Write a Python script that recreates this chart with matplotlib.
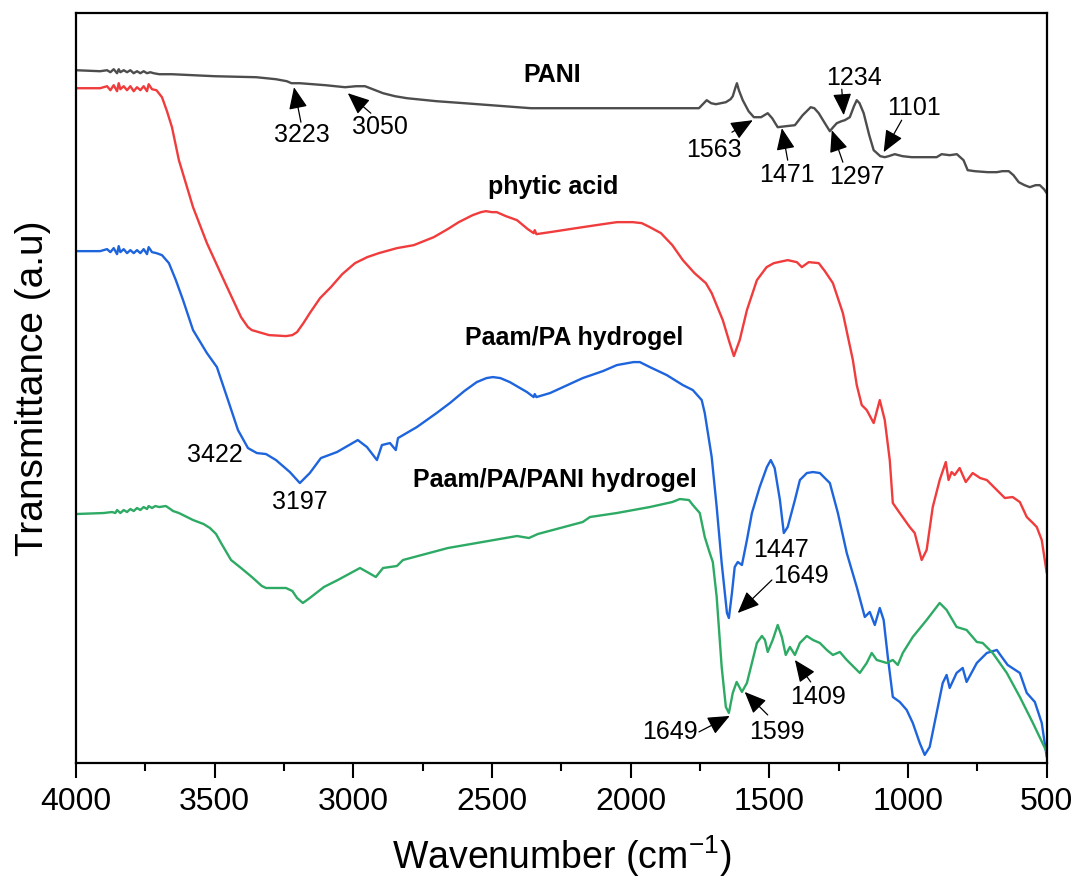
import matplotlib
matplotlib.use("Agg")
import matplotlib.pyplot as plt
from matplotlib.ticker import MultipleLocator

plt.rcParams['font.family'] = ['Liberation Sans', 'DejaVu Sans']
plt.rcParams['mathtext.fontset'] = 'custom'
plt.rcParams['mathtext.rm'] = 'Liberation Sans'
plt.rcParams['mathtext.it'] = 'Liberation Sans'

# ---------------- data (wavenumber cm-1, offset transmittance a.u.) ----------------
pani_wn = [4000, 3913, 3888, 3876, 3864, 3852, 3846, 3840, 3828, 3816, 3804, 3792, 3780,
           3768, 3756, 3744, 3732, 3720, 3700, 3654, 3500, 3350, 3279, 3240, 3223, 3193,
           3100, 3030, 2990, 2958, 2930, 2893, 2850, 2807, 2700, 2600, 2360, 2000, 1754, 1740, 1726,
           1710, 1693, 1675, 1657, 1640, 1632, 1622, 1617, 1610, 1596, 1575, 1556, 1530, 1506, 1490, 1470,
           1440, 1408, 1380, 1351, 1338, 1322, 1300, 1282, 1270, 1257, 1240, 1228, 1210, 1195,
           1185, 1175, 1160, 1140, 1124, 1100, 1084, 1070, 1048, 1020, 987, 940, 897, 879, 850, 824, 800, 785,
           760, 713, 680, 660, 637, 620, 601, 580, 561, 540, 525, 510, 500]
pani_t = [693, 692, 693, 691, 694, 690, 694, 691, 693, 691, 693, 690, 692,
          690, 692, 690, 691, 690, 689, 689, 687, 686, 684, 682, 680, 680,
          678, 676, 677, 677, 674, 670, 667, 665, 662, 660, 655, 655, 655, 659, 663,
          660, 659, 660, 661, 664, 667, 676, 680, 673, 663, 652, 646, 646, 650, 645, 636,
          637, 638, 648, 656, 655, 650, 640, 632, 636, 640, 642, 643, 646, 657,
          663, 660, 650, 628, 613, 607, 606, 607, 609, 607, 606, 606, 606, 609, 608, 609, 603, 593,
          592, 591, 591, 592, 592, 588, 581, 578, 576, 578, 578, 574, 570]

pa_wn = [4000, 3913, 3888, 3876, 3864, 3852, 3846, 3840, 3828, 3816, 3804, 3792, 3780,
         3768, 3756, 3744, 3738, 3726, 3710, 3690, 3672, 3654, 3629, 3578,
         3528, 3467, 3405, 3380, 3366, 3304, 3243, 3220, 3203, 3180, 3157, 3120, 3081, 3040, 2994, 2950, 2908, 2843, 2782,
         2710, 2660, 2620, 2570, 2540, 2522, 2500, 2483, 2450, 2410, 2371, 2350, 2346, 2340, 2291, 2173, 2100, 2050, 1992, 1960, 1931, 1891,
         1850, 1812, 1770, 1729, 1708, 1668, 1643, 1628, 1607, 1581, 1545, 1510, 1484, 1434, 1401, 1383,
         1358, 1322, 1300, 1271, 1235, 1199, 1185, 1167, 1149, 1124, 1102, 1084, 1066, 1055,
         1030, 994, 976, 951, 933, 911, 886, 864, 854, 843, 832, 814, 792, 767, 740, 716,
         669, 651, 623, 597, 572, 550, 536, 518, 500]
pa_t = [675, 675, 677, 673, 678, 672, 680, 674, 677, 673, 677, 672, 676,
        673, 677, 672, 679, 674, 673, 666, 652, 636, 603, 556,
        520, 483, 446, 436, 433, 428, 427, 428, 431, 440, 450, 465, 476, 489, 500, 506, 510, 515, 518,
        526, 534, 541, 548, 551, 552, 551, 551, 547, 543, 534, 530, 533, 529, 531, 536, 539, 541, 541, 540, 536, 530,
        518, 503, 490, 480, 470, 443, 420, 407, 423, 453, 483, 496, 500, 503, 501, 496,
        501, 500, 492, 480, 450, 403, 378, 358, 353, 340, 363, 343, 303, 260,
        250, 236, 230, 203, 213, 256, 283, 301, 283, 291, 288, 295, 281, 290, 285, 283,
        270, 265, 266, 261, 246, 240, 236, 223, 190]

gel_wn = [4000, 3913, 3888, 3876, 3864, 3852, 3846, 3840, 3828, 3816, 3804, 3792, 3780,
          3768, 3756, 3744, 3738, 3726, 3710, 3690, 3665, 3640, 3614,
          3578, 3528, 3492, 3452, 3416, 3380, 3348, 3315, 3279, 3229, 3193, 3157, 3117,
          3059, 2984, 2951, 2915, 2897, 2868, 2847, 2839, 2771, 2700, 2652, 2600, 2555, 2520, 2497, 2470, 2436,
          2374, 2350, 2346, 2340, 2291, 2173, 2100, 2050, 1990, 1967, 1931, 1870, 1812, 1776, 1744, 1733, 1708, 1690,
          1672, 1653, 1646, 1635, 1625, 1614, 1599, 1581, 1563, 1535, 1509, 1495, 1481,
          1462, 1448, 1434, 1408, 1390, 1365, 1343, 1318, 1282, 1253, 1221, 1185, 1156,
          1138, 1120, 1102, 1088, 1073, 1055, 1030, 1005, 983, 958, 940, 922, 897, 875,
          861, 850, 825, 803, 789, 752, 716, 680, 662, 641, 597, 572, 543, 518, 500]
gel_t = [512, 512, 514, 511, 515, 509, 517, 511, 514, 510, 513, 510, 513,
         510, 514, 509, 516, 511, 510, 508, 500, 483, 463,
         433, 410, 396, 363, 333, 315, 310, 309, 303, 291, 280, 290, 305,
         311, 323, 316, 303, 318, 320, 313, 325, 336, 350, 360, 372, 381, 385, 386, 385, 381,
         371, 366, 369, 366, 370, 385, 392, 398, 401, 401, 396, 388, 378, 373, 363, 350, 306, 256,
         200, 150, 145, 170, 196, 201, 198, 223, 250, 276, 296, 303, 295,
         263, 230, 236, 263, 283, 290, 291, 290, 280, 250, 210, 176, 146,
         151, 138, 155, 143, 106, 66, 61, 53, 40, 20, 8, 16, 50, 80,
         88, 75, 90, 95, 81, 100, 110, 113, 106, 98, 90, 70, 61, 40, 6]

pani_gel_wn = [4000, 3900, 3870, 3858, 3852, 3840, 3828, 3816, 3804, 3792, 3780, 3768, 3756,
               3744, 3738, 3726, 3714, 3700, 3676, 3660, 3650, 3629, 3578,
               3540, 3517, 3495, 3477, 3441, 3405, 3366, 3330, 3315, 3243, 3220, 3203, 3182, 3157, 3106, 3056,
               2976, 2944, 2919, 2893, 2843, 2821, 2659, 2410, 2367, 2335, 2173, 2147,
               2050, 1931, 1850, 1823, 1790, 1776, 1751, 1733, 1715, 1704, 1690, 1672, 1657, 1646,
               1632, 1618, 1599, 1581, 1563, 1545, 1527, 1516, 1506, 1488, 1470, 1455,
               1441, 1426, 1408, 1390, 1365, 1343, 1318, 1293, 1271, 1246, 1221, 1174,
               1149, 1131, 1113, 1077, 1055, 1037, 1019, 983, 933, 886, 861, 825, 789,
               752, 731, 695, 644, 597, 550, 500]
pani_gel_t = [249, 250, 251, 250, 253, 250, 253, 251, 254, 252, 255, 253, 256,
              254, 257, 255, 257, 256, 257, 254, 252, 250, 243,
              239, 235, 229, 220, 203, 195, 186, 177, 175, 175, 172, 165, 160, 165, 176, 183,
              195, 190, 186, 195, 197, 203, 215, 227, 225, 229, 241, 246,
              250, 256, 261, 264, 263, 258, 250, 226, 210, 201, 166, 96, 56, 50,
              70, 81, 71, 80, 100, 120, 127, 123, 111, 123, 138, 126,
              108, 116, 108, 120, 127, 123, 120, 113, 108, 111, 103, 90,
              100, 110, 103, 100, 103, 98, 110, 126, 143, 160, 153, 136, 133,
              121, 120, 110, 90, 66, 40, 11]

series_names = ["PANI", "phytic acid", "Paam/PA hydrogel", "Paam/PA/PANI hydrogel"]
x_ticks = [4000, 3500, 3000, 2500, 2000, 1500, 1000, 500]

# peak labels: (text, text_wn, text_t, tip_wn, tip_t) ; tip None -> no arrow
peak_labels = [
    ("3223", 3185, 628, 3214, 676),
    ("3050", 2904, 636, 3020, 670),
    ("1563", 1700, 613, 1560, 643),
    ("1471", 1437, 588, 1455, 635),
    ("1297", 1185, 586, 1275, 633),
    ("1234", 1196, 685, 1232, 648),
    ("1101", 980, 655, 1088, 611),
    ("3422", 3500, 308, None, None),
    ("3197", 3193, 261, None, None),
    ("1447", 1459, 213, None, None),
    ("1649", 1387, 187, 1614, 150),
    ("1409", 1325, 66, 1408, 103),
    ("1599", 1473, 31, 1589, 71),
    ("1649", 1859, 31, 1643, 47),
]
# arrow tails (start points of the arrow shafts)
arrow_tails = {
    0: (3189, 641), 1: (2937, 650), 2: (1635, 631), 3: (1434, 603),
    4: (1235, 601), 5: (1239, 674), 6: (1023, 643), 10: (1491, 183),
    11: (1351, 81), 12: (1506, 48), 13: (1754, 31),
}
name_pos = [(2284, 688), (2281, 576), (2205, 425), (2273, 283)]

# ---------------- plotting ----------------
fig = plt.figure(figsize=(10.78, 8.83), dpi=100)
ax = fig.add_axes([0.0705, 0.136, 0.9005, 0.849])

colors = ["#4d4d4d", "#f03c3c", "#1e64dc", "#2daa64"]
data = [(pani_wn, pani_t), (pa_wn, pa_t), (gel_wn, gel_t), (pani_gel_wn, pani_gel_t)]
for (xw, yt), c in zip(data, colors):
    ax.plot(xw, yt, color=c, lw=1.7, solid_joinstyle='round', solid_capstyle='round')

for name, (xw, yt) in zip(series_names, name_pos):
    ax.text(xw, yt, name, ha='center', va='center', fontsize=18, fontweight='bold')

for i, (txt, tx, ty, px, py) in enumerate(peak_labels):
    ax.text(tx, ty, txt, ha='center', va='center', fontsize=18)
    if px is not None:
        sx, sy = arrow_tails[i]
        ax.annotate("", xy=(px, py), xytext=(sx, sy),
                    arrowprops=dict(arrowstyle='-|>,head_length=0.75,head_width=0.32',
                                    color='black', lw=0.9, mutation_scale=18,
                                    shrinkA=0, shrinkB=0))

ax.set_xlim(4000, 500)
ax.set_ylim(0, 750)
ax.set_xticks(x_ticks)
ax.xaxis.set_minor_locator(MultipleLocator(250))
ax.set_yticks([])
ax.tick_params(axis='x', which='major', direction='out', length=11, width=1.5,
               labelsize=23, pad=6)
ax.tick_params(axis='x', which='minor', direction='out', length=6, width=1.5)
for s in ax.spines.values():
    s.set_linewidth(1.6)

ax.set_xlabel("Wavenumber (cm$^{-1}$)", fontsize=27, labelpad=12)
ax.set_ylabel("Transmittance (a.u)", fontsize=28, labelpad=18)

fig.savefig("out.png", dpi=100)
